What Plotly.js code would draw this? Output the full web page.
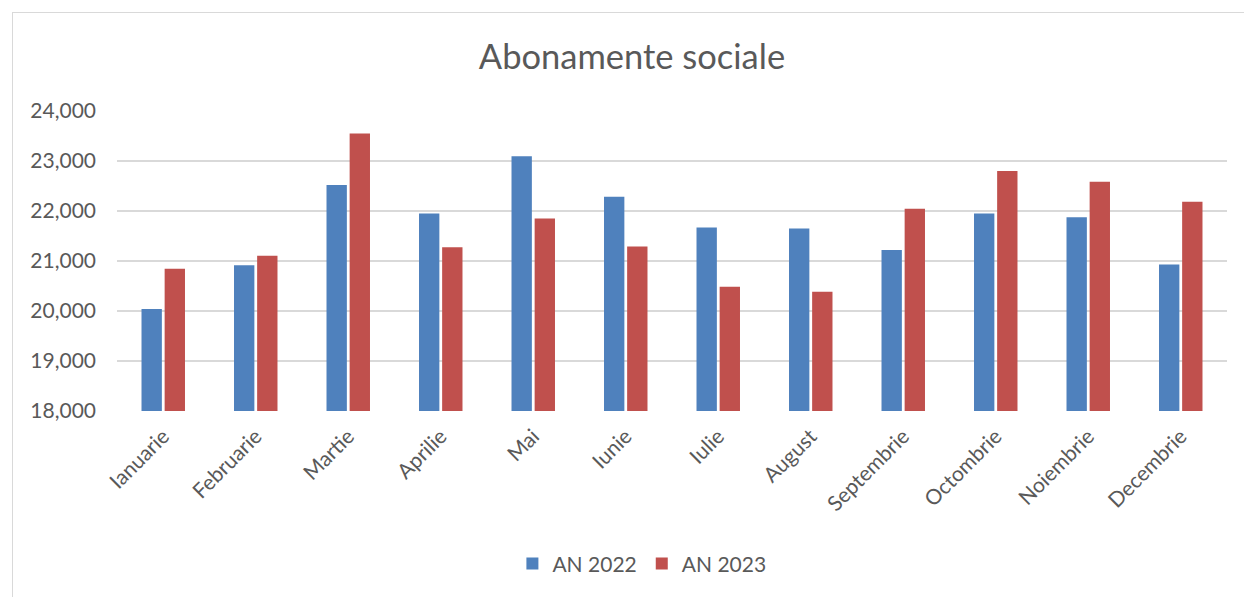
<!DOCTYPE html>
<html>
<head>
<meta charset="utf-8">
<script src="https://cdn.plot.ly/plotly-3.0.1.min.js"></script>
<style>
  html, body { margin: 0; padding: 0; background: #ffffff; }
  #frame { position: absolute; left: 12px; top: 12px; width: 1240px; height: 590px; border: 1px solid #d9d9d9; box-sizing: border-box; }
  #chart { width: 1238px; height: 588px; }
</style>
</head>
<body>
<div id="frame"><div id="chart"></div></div>
<script>
const months = ["Ianuarie","Februarie","Martie","Aprilie","Mai","Iunie","Iulie","August","Septembrie","Octombrie","Noiembrie","Decembrie"];
const an2022 = [20040, 20915, 22520, 21950, 23095, 22285, 21670, 21650, 21220, 21950, 21875, 20930];
const an2023 = [20845, 21105, 23550, 21275, 21850, 21290, 20485, 20385, 22045, 22800, 22585, 22185];
const seriesNames = ["AN 2022", "AN 2023"];

const FONT = "Lato, 'Open Sans', 'Liberation Sans', sans-serif";

const traces = [
  { type: "bar", name: seriesNames[0], x: months, y: an2022, marker: { color: "#4f81bd" } },
  { type: "bar", name: seriesNames[1], x: months, y: an2023, marker: { color: "#c0504d" } }
];

const layout = {
  width: 1238, height: 588,
  margin: { l: 104, r: 24, t: 98, b: 190 },
  paper_bgcolor: "#ffffff", plot_bgcolor: "#ffffff",
  font: { family: FONT, color: "#595959", size: 21 },
  title: { text: "Abonamente sociale", font: { family: FONT, size: 34.5, color: "#595959" },
           x: 0.5, xanchor: "center", y: 0.925, yanchor: "middle", yref: "container" },
  barmode: "group", bargap: 0.5, bargroupgap: 0.12,
  xaxis: { tickangle: -45, tickfont: { size: 21, color: "#595959" }, showgrid: false,
           showline: false, ticks: "", automargin: false, ticklabelstandoff: 8 },
  yaxis: { range: [18000, 24000], dtick: 1000, tickformat: ",", showgrid: true,
           gridcolor: "#d9d9d9", gridwidth: 1.5, zeroline: false, showline: false,
           tickfont: { size: 21, color: "#595959" }, ticklabelstandoff: 20, automargin: false },
  legend: { orientation: "h", x: 0.508, xanchor: "center", xref: "container", y: 0.063, yanchor: "middle",
            yref: "container", font: { size: 21, color: "#595959" }, itemwidth: 30, tracegroupgap: 0 },
  showlegend: true
};

Plotly.newPlot("chart", traces, layout, { displayModeBar: false, staticPlot: true });
</script>
</body>
</html>
